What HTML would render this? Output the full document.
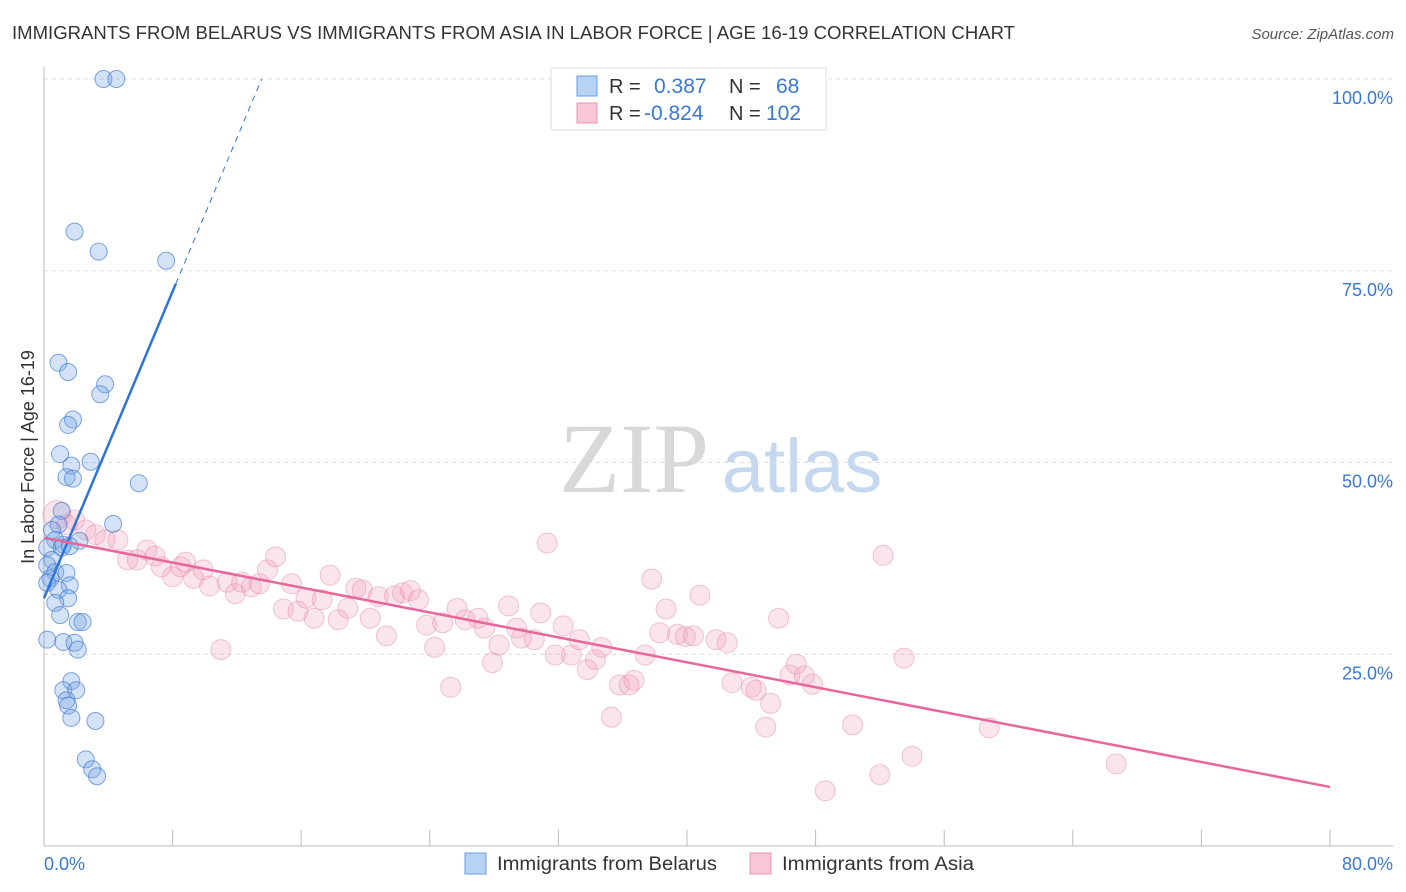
<!DOCTYPE html>
<html><head><meta charset="utf-8"><style>
body{margin:0;background:#fff;font-family:"Liberation Sans",sans-serif;}
#wrap{position:relative;width:1406px;height:892px;overflow:hidden}
</style></head><body>
<div id="wrap">
<svg id="svg" width="1406" height="892" xmlns="http://www.w3.org/2000/svg">
<text x="12" y="39" font-size="18" fill="#333" textLength="1003" lengthAdjust="spacingAndGlyphs">IMMIGRANTS FROM BELARUS VS IMMIGRANTS FROM ASIA IN LABOR FORCE | AGE 16-19 CORRELATION CHART</text>
<text x="1394" y="39" font-size="15" fill="#555" text-anchor="end" font-style="italic">Source: ZipAtlas.com</text>
<text x="0" y="0" transform="translate(34,457) rotate(-90)" font-size="18" fill="#333" text-anchor="middle">In Labor Force | Age 16-19</text>
<g>
<text x="634" y="492" font-size="100" fill="#d8d8d8" font-family="Liberation Serif,serif" text-anchor="middle">ZIP</text>
<text x="802" y="492" font-size="76" fill="#c6d8f0" text-anchor="middle">atlas</text>
</g>
<g id="grid"></g><g id="axes"></g><g id="pink"></g><g id="blue"></g><g id="trends"></g>
<g>
<rect x="551" y="68" width="275" height="62" fill="#fff" stroke="#ddd"/>
<rect x="577" y="76" width="20" height="20" fill="#b8d2f4" stroke="#6a9de0"/>
<text x="609" y="93" font-size="20" fill="#333">R = </text><text x="654" y="93" font-size="21" fill="#3a78d6">0.387</text>
<text x="729" y="93" font-size="20" fill="#333">N = </text><text x="776" y="93" font-size="21" fill="#3a78d6">68</text>
<rect x="577" y="103" width="20" height="20" fill="#f8c6d6" stroke="#e895b0"/>
<text x="609" y="120" font-size="20" fill="#333">R = </text><text x="644" y="120" font-size="21" fill="#3a78d6">-0.824</text>
<text x="729" y="120" font-size="20" fill="#333">N = </text><text x="766" y="120" font-size="21" fill="#3a78d6">102</text>
</g>
<g>
<rect x="465" y="853" width="21" height="21" fill="#b8d2f4" stroke="#6a9de0"/>
<text x="497" y="870" font-size="19" fill="#333" textLength="220" lengthAdjust="spacingAndGlyphs">Immigrants from Belarus</text>
<rect x="750" y="853" width="21" height="21" fill="#f8c6d6" stroke="#e895b0"/>
<text x="782" y="870" font-size="19" fill="#333" textLength="192" lengthAdjust="spacingAndGlyphs">Immigrants from Asia</text>
</g>
</svg>
</div>
<script>
const yTicks=[25,50,75,100];
const xLabels=["0.0%","80.0%"];
const belarusX=[3.7,4.5,1.9,3.4,7.6,0.9,1.5,3.8,3.5,1.8,1.5,1.0,2.9,1.7,1.4,1.8,5.9,1.1,4.3,0.9,0.5,0.7,1.2,2.2,0.2,1.1,1.6,0.5,0.2,0.7,1.4,0.4,0.2,1.6,0.9,1.5,0.7,1.0,2.1,2.4,0.2,1.2,1.9,2.1,1.7,1.2,2.0,1.4,1.5,1.7,3.2,2.6,3.0,3.3];
const belarusY=[100,100,80.1,77.5,76.3,63.0,61.8,60.2,58.9,55.6,54.9,51.1,50.1,49.6,48.1,47.9,47.3,43.7,42.0,41.9,41.2,39.9,39.3,39.8,38.9,38.9,39.1,37.3,36.6,35.7,35.6,34.9,34.3,34.0,33.4,32.3,31.7,30.1,29.2,29.2,26.9,26.6,26.5,25.6,21.5,20.3,20.3,19.0,18.3,16.7,16.3,11.3,10.0,9.1];
const asiaX=[0.8,1.4,1.9,2.6,3.2,3.8,4.6,5.2,5.8,6.4,6.9,7.3,8.0,8.5,8.8,9.3,9.9,10.3,11.0,11.4,11.9,12.3,12.9,13.4,13.9,14.4,14.9,15.4,15.8,16.3,16.8,17.3,17.8,18.3,18.9,19.4,19.8,20.3,20.8,21.3,21.8,22.3,22.8,23.3,23.8,24.3,24.8,25.3,25.7,26.2,27.0,27.4,27.9,28.3,28.9,29.4,29.7,30.5,30.9,31.3,31.8,32.3,32.8,33.3,33.8,34.3,34.7,35.3,35.8,36.4,36.7,37.4,37.8,38.3,38.7,39.4,39.9,40.4,40.8,41.8,42.5,42.8,44.0,44.3,44.9,45.2,45.7,46.4,46.8,47.3,47.8,48.6,50.3,52.0,52.2,53.5,54.0,58.8,66.7];
const asiaY=[43.2,41.9,42.5,41.2,40.6,39.9,39.9,37.3,37.3,38.6,37.8,36.4,35.1,36.4,37.0,34.9,36.0,33.9,25.6,34.4,32.9,34.4,33.8,34.2,36.0,37.7,30.9,34.2,30.6,32.3,29.7,32.1,35.3,29.5,31.0,33.6,33.4,29.7,32.5,27.4,32.6,33.0,33.3,32.1,28.8,25.9,29.1,20.7,31.0,29.5,29.7,28.4,23.9,26.2,31.3,28.4,27.1,26.9,30.4,39.5,24.9,28.7,24.9,26.9,23.0,24.3,25.9,16.8,21.0,21.0,21.6,24.9,34.8,27.8,30.9,27.6,27.3,27.4,32.7,26.9,26.5,21.3,20.7,20.3,15.5,18.6,29.7,22.3,23.7,22.2,21.1,7.2,15.8,9.3,37.9,24.5,11.7,15.4,10.7];
const belarusTrend=[0,32.3,5.0];
const asiaTrend=[40.2,7.7];
const X0=44,X1=1330,Y0=846,Y100=79;
const sx=v=>X0+(v/80)*(X1-X0);
const sy=v=>Y0-(v/100)*(Y0-Y100);
const NS="http://www.w3.org/2000/svg";
function mk(t,a,p){const e=document.createElementNS(NS,t);for(const k in a)e.setAttribute(k,a[k]);p.appendChild(e);return e;}
const grid=document.getElementById('grid'),axes=document.getElementById('axes');
yTicks.forEach(t=>{
 const l=mk('line',{x1:X0,x2:1393,y1:sy(t),y2:sy(t),stroke:'#ddd','stroke-dasharray':'4,4'},grid);
 
 
 const tx=mk('text',{x:1393,y:sy(t)+25,'font-size':18,fill:'#3a78d6','text-anchor':'end'},axes);
 tx.textContent=t.toFixed(1)+'%';
 
 
});
const ax=mk('line',{x1:X0,x2:X0,y1:67,y2:Y0,stroke:'#bbb'},axes);


const bx=mk('line',{x1:X0,x2:1393,y1:Y0,y2:Y0,stroke:'#bbb'},axes);


for(let i=0;i<=10;i++){const t=mk('line',{x1:sx(i*8),x2:sx(i*8),y1:Y0,y2:Y0-16,stroke:'#bbb'},axes);
 
 }
xLabels.forEach((s,i)=>{const t=mk('text',{x:i?1393:44,y:870,'font-size':18,fill:'#3a78d6','text-anchor':i?'end':'start'},axes);t.textContent=s;
 
 });
const pg=document.getElementById('pink');
asiaX.forEach((x,i)=>{const c=mk('circle',{cx:sx(x),cy:sy(asiaY[i]),r:i==0?14:10,fill:'rgba(242,160,188,0.28)',stroke:'rgba(232,140,172,0.5)'},pg);
 
 });
const bg=document.getElementById('blue');
belarusX.forEach((x,i)=>{const c=mk('circle',{cx:sx(x),cy:sy(belarusY[i]),r:8.5,fill:'rgba(120,168,228,0.33)',stroke:'rgba(60,120,210,0.65)'},bg);
 
 });
const tg=document.getElementById('trends');
const xs=8.2,xe=(100-belarusTrend[1])/belarusTrend[2];
const b1=mk('line',{x1:sx(0),y1:sy(belarusTrend[1]),x2:sx(xs),y2:sy(belarusTrend[1]+belarusTrend[2]*xs),stroke:'#2f74d8','stroke-width':2.5},tg);


const b2=mk('line',{x1:sx(xs),y1:sy(belarusTrend[1]+belarusTrend[2]*xs),x2:sx(xe),y2:sy(100),stroke:'#2f74d8','stroke-width':1,'stroke-dasharray':'6,5'},tg);


const p1=mk('line',{x1:sx(0),y1:sy(asiaTrend[0]),x2:sx(80),y2:sy(asiaTrend[1]),stroke:'#e8679a','stroke-width':2.5},tg);


</script>
</body></html>
